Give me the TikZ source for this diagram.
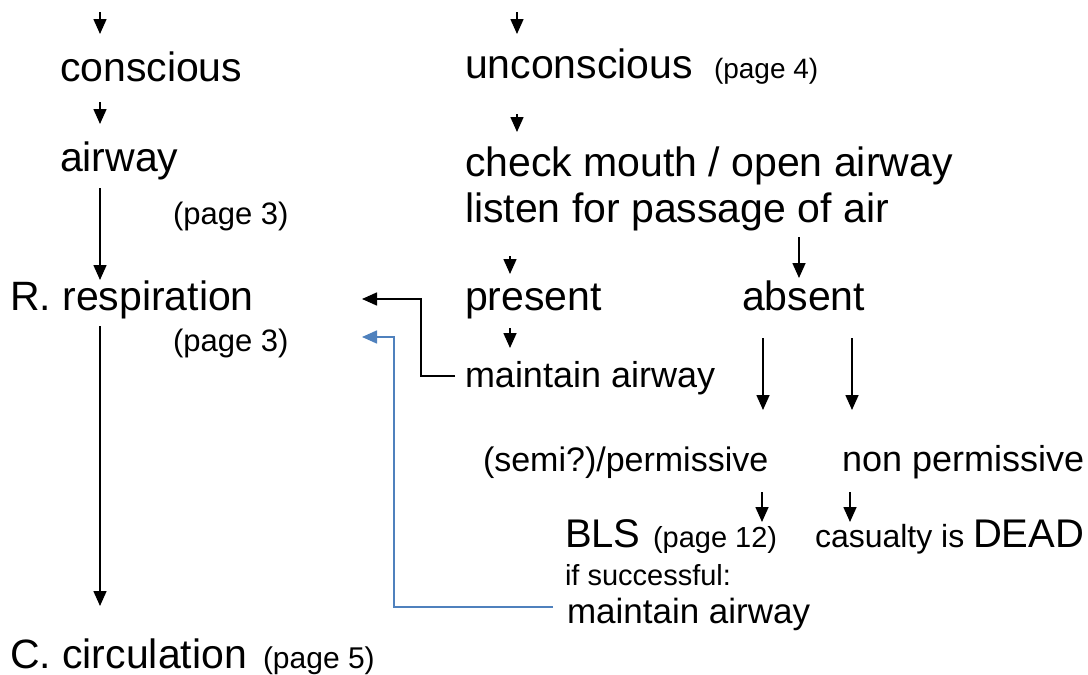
\documentclass[tikz,border=0pt]{standalone}
\usepackage{fontspec}
\setmainfont{Liberation Sans}
\usetikzlibrary{arrows.meta}
\definecolor{linkblue}{RGB}{79,129,189}
\tikzset{
  lbl/.style={anchor=base west, inner sep=0pt, outer sep=0pt},
  big/.style={lbl, font=\fontsize{41}{46}\selectfont},
  mid/.style={lbl, font=\fontsize{36}{40}\selectfont},
  arr/.style={line width=1.6pt, -{Triangle[width=13pt,length=15pt]}},
}
\begin{document}
\begin{tikzpicture}[x=1pt,y=-1pt]
\useasboundingbox (0,0) rectangle (1088,675);
\node[big] (cons) at (60,81) {conscious};
\node[big] (uncons) at (465,78) {unconscious};
\node[lbl, font=\fontsize{28}{32}\selectfont] (p4) at (714,78) {(page 4)};
\node[big] (airw) at (60,171) {airway};
\node[big] (check) at (465,176) {check mouth / open airway};
\node[big] (listen) at (465,222) {listen for passage of air};
\node[lbl, font=\fontsize{31}{35}\selectfont] (p3a) at (173,224) {(page 3)};
\node[big] (resp) at (10,310) {R. respiration};
\node[big] (pres) at (465,310) {present};
\node[big] (abs) at (742,310) {absent};
\node[lbl, font=\fontsize{31}{35}\selectfont] (p3b) at (173,351) {(page 3)};
\node[mid] (maint) at (465,387) {maintain airway};
\node[lbl, font=\fontsize{34}{38}\selectfont] (semi) at (483,471) {(semi?)/permissive};
\node[lbl, font=\fontsize{36}{40}\selectfont] (nonp) at (842,471) {non permissive};
\node[lbl, font=\fontsize{40}{44}\selectfont] (bls) at (565,547) {BLS};
\node[lbl, font=\fontsize{29}{33}\selectfont] (p12) at (653,547) {(page 12)};
\node[lbl, font=\fontsize{32}{36}\selectfont] (cas) at (815,547) {casualty is};
\node[lbl, font=\fontsize{40}{44}\selectfont] (dead) at (973,547) {DEAD};
\node[lbl, font=\fontsize{29}{33}\selectfont] (succ) at (565,585) {if successful:};
\node[lbl, font=\fontsize{35}{39}\selectfont] (maint2) at (567,623) {maintain airway};
\node[big] (circ) at (10,668) {C. circulation};
\node[lbl, font=\fontsize{30}{34}\selectfont] (p5) at (263,668) {(page 5)};
% arrow end points
\coordinate (a1s) at (100,12);  \coordinate (a1e) at (100,34);
\coordinate (a2s) at (517,12);  \coordinate (a2e) at (517,34);
\coordinate (a3s) at (100,102); \coordinate (a3e) at (100,124);
\coordinate (a4s) at (517,114); \coordinate (a4e) at (517,132);
\coordinate (a5s) at (100,188); \coordinate (a5e) at (100,280);
\coordinate (a6s) at (510,256); \coordinate (a6e) at (510,274);
\coordinate (a7s) at (799,237); \coordinate (a7e) at (799,278);
\coordinate (a8s) at (510,328); \coordinate (a8e) at (510,348);
\coordinate (a9s) at (763,338); \coordinate (a9e) at (763,410);
\coordinate (a10s) at (852,338); \coordinate (a10e) at (852,410);
\coordinate (a11s) at (762,492); \coordinate (a11e) at (762,522);
\coordinate (a12s) at (850,492); \coordinate (a12e) at (850,522);
\coordinate (a13s) at (100,326); \coordinate (a13e) at (100,606);
\coordinate (rtip1) at (362,299);
\coordinate (rtip2) at (362,337);
\draw[arr] (a1s) -- (a1e);
\draw[arr] (a2s) -- (a2e);
\draw[arr] (a3s) -- (a3e);
\draw[arr] (a4s) -- (a4e);
\draw[arr] (a5s) -- (a5e);
\draw[arr] (a6s) -- (a6e);
\draw[arr] (a7s) -- (a7e);
\draw[arr] (a8s) -- (a8e);
\draw[arr] (a9s) -- (a9e);
\draw[arr] (a10s) -- (a10e);
\draw[arr] (a11s) -- (a11e);
\draw[arr] (a12s) -- (a12e);
\draw[arr] (a13s) -- (a13e);
% feedback connectors
\draw[arr] ([xshift=-10pt,yshift=11pt]maint.base west) -| (421,299) -- (rtip1);
\draw[arr, draw=linkblue] ([xshift=-14pt,yshift=16pt]maint2.base west) -| (394,337) -- (rtip2);
\end{tikzpicture}
\end{document}
